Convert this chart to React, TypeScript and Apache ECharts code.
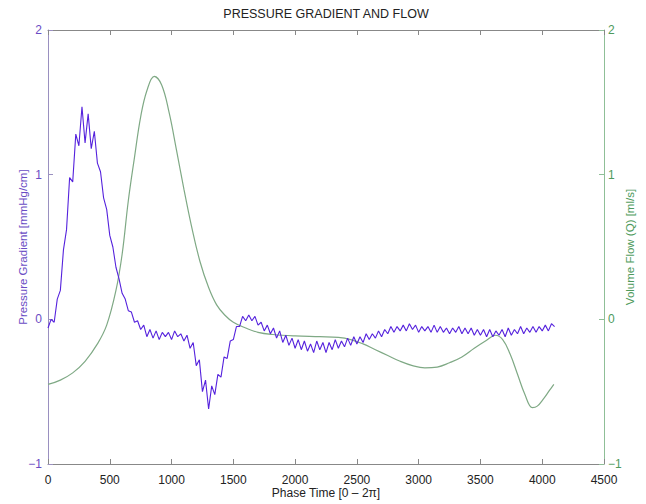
import React, { useEffect, useRef } from "react";
import * as echarts from "echarts";

const xTicks = [0, 500, 1000, 1500, 2000, 2500, 3000, 3500, 4000, 4500];
const yTicks = [-1, 0, 1, 2];
const sampleStep = 25;

// Pressure gradient, one value every 25 phase-time units
const pressure = [
  -0.06, 0.0, -0.02, 0.14, 0.2, 0.48, 0.62, 0.98, 0.95, 1.28,
  1.2, 1.47, 1.22, 1.42, 1.18, 1.3, 1.08, 1.02, 0.84, 0.76,
  0.58, 0.5, 0.36, 0.28, 0.18, 0.14, 0.06, 0.05, -0.02, -0.01,
  -0.07, -0.04, -0.12, -0.07, -0.13, -0.08, -0.14, -0.09, -0.12, -0.09,
  -0.14, -0.08, -0.12, -0.1, -0.15, -0.11, -0.2, -0.16, -0.32, -0.28,
  -0.5, -0.42, -0.62, -0.46, -0.52, -0.38, -0.4, -0.26, -0.27, -0.15,
  -0.14, -0.05, -0.05, 0.02, -0.01, 0.03, -0.01, 0.02, -0.04, -0.02,
  -0.08, -0.04, -0.1, -0.06, -0.13, -0.08, -0.16, -0.11, -0.18, -0.13,
  -0.2, -0.14, -0.21, -0.15, -0.22, -0.17, -0.23, -0.15, -0.21, -0.16,
  -0.23, -0.16, -0.21, -0.14, -0.2, -0.15, -0.19, -0.13, -0.18, -0.12,
  -0.17, -0.12, -0.16, -0.1, -0.14, -0.1, -0.13, -0.08, -0.12, -0.07,
  -0.1, -0.05, -0.09, -0.05, -0.08, -0.04, -0.08, -0.03, -0.07, -0.04,
  -0.09, -0.05, -0.08, -0.05, -0.09, -0.04, -0.09, -0.05, -0.09, -0.06,
  -0.1, -0.06, -0.09, -0.05, -0.1, -0.06, -0.1, -0.06, -0.11, -0.07,
  -0.11, -0.07, -0.12, -0.07, -0.12, -0.08, -0.11, -0.07, -0.12, -0.06,
  -0.11, -0.07, -0.1, -0.05, -0.1, -0.06, -0.09, -0.05, -0.09, -0.05,
  -0.08, -0.04, -0.08, -0.03, -0.05,
];

// Volume flow: phase time and value pairs
const flowTime = [
  0, 100, 200, 300, 400, 475, 550, 600, 650, 700, 750, 800, 860, 920, 980,
  1040, 1100, 1160, 1230, 1300, 1365, 1430, 1500, 1600, 1700, 1820, 2000,
  2200, 2350, 2450, 2550, 2650, 2750, 2850, 2950, 3050, 3150, 3250, 3350,
  3450, 3550, 3620, 3680, 3740, 3800, 3860, 3920, 3960, 4010, 4060, 4094,
];
const flowValue = [
  -0.45, -0.42, -0.37, -0.29, -0.17, -0.04, 0.2, 0.45, 0.82, 1.12, 1.4, 1.58,
  1.68, 1.62, 1.43, 1.17, 0.9, 0.65, 0.4, 0.22, 0.1, 0.03, -0.02, -0.06,
  -0.09, -0.105, -0.115, -0.12, -0.125, -0.14, -0.17, -0.21, -0.25, -0.29,
  -0.32, -0.335, -0.33, -0.3, -0.26, -0.2, -0.145, -0.11, -0.14, -0.24,
  -0.38, -0.52, -0.61, -0.6, -0.55, -0.49, -0.45,
];

const PURPLE = "#5522dd";
const PURPLE_TXT = "#6a4cc4";
const GREEN = "#7fa985";
const GREEN_TXT = "#4e9a5c";
const FONT = "Liberation Sans";

export default function App() {
  const ref = useRef<HTMLDivElement>(null);
  useEffect(() => {
    if (!ref.current) return;
    const chart = echarts.init(ref.current, undefined, { renderer: "svg" });
    const minus = (v: number) => (v < 0 ? "\u2212" + Math.abs(v) : String(v));
    const plain = (v: number) => String(v);
    const pData = pressure.map((v, i) => [i * sampleStep, v]);
    const fData = flowTime.map((t, i) => [t, flowValue[i]]);
    chart.setOption({
      animation: false,
      backgroundColor: "#ffffff",
      textStyle: { fontFamily: FONT },
      title: {
        text: "PRESSURE GRADIENT AND FLOW",
        left: 321,
        textAlign: "center",
        top: 2,
        textStyle: { fontSize: 12.5, fontWeight: "normal", color: "#222", fontFamily: FONT },
      },
      grid: { left: 48, right: 42, top: 30, bottom: 37 },
      xAxis: [
        {
          type: "value",
          min: xTicks[0],
          max: xTicks[xTicks.length - 1],
          interval: 500,
          position: "bottom",
          name: "Phase Time [0 \u2013 2\u03c0]",
          nameLocation: "middle",
          nameGap: 23,
          nameMoveOverlap: false,
          nameTextStyle: { fontSize: 12, color: "#222", fontFamily: FONT },
          axisLine: { onZero: false, lineStyle: { color: "#888", width: 1 } },
          axisTick: { inside: true, length: 5, lineStyle: { color: "#888" } },
          axisLabel: { color: "#222", fontSize: 12, margin: 10, formatter: plain, fontFamily: FONT },
          splitLine: { show: false },
        },
        {
          type: "value",
          min: xTicks[0],
          max: xTicks[xTicks.length - 1],
          interval: 500,
          position: "top",
          axisLine: { onZero: false, lineStyle: { color: "#888", width: 1 } },
          axisTick: { inside: true, length: 5, lineStyle: { color: "#888" } },
          axisLabel: { show: false },
          splitLine: { show: false },
        },
      ],
      yAxis: [
        {
          type: "value",
          min: yTicks[0],
          max: yTicks[yTicks.length - 1],
          interval: 1,
          position: "left",
          name: "Pressure Gradient [mmHg/cm]",
          nameLocation: "middle",
          nameGap: 19,
          nameMoveOverlap: false,
          nameTextStyle: { fontSize: 11.5, color: PURPLE_TXT, fontFamily: FONT },
          axisLine: { show: true, onZero: false, lineStyle: { color: "#9a90c0", width: 1 } },
          axisTick: { show: true, inside: true, length: 5, lineStyle: { color: "#9a90c0" } },
          axisLabel: { color: PURPLE_TXT, fontSize: 12, margin: 6, formatter: minus, fontFamily: FONT },
          splitLine: { show: false },
        },
        {
          type: "value",
          min: yTicks[0],
          max: yTicks[yTicks.length - 1],
          interval: 1,
          position: "right",
          name: "Volume Flow (Q) [ml/s]",
          nameLocation: "middle",
          nameGap: 20,
          nameRotate: 90,
          nameMoveOverlap: false,
          nameTextStyle: { fontSize: 11.5, color: GREEN_TXT, fontFamily: FONT },
          axisLine: { show: true, onZero: false, lineStyle: { color: "#8fbf97", width: 1 } },
          axisTick: { show: true, inside: true, length: 5, lineStyle: { color: "#8fbf97" } },
          axisLabel: { color: GREEN_TXT, fontSize: 12, margin: 4, formatter: minus, fontFamily: FONT },
          splitLine: { show: false },
        },
      ],
      series: [
        {
          name: "Volume Flow",
          type: "line",
          xAxisIndex: 0,
          yAxisIndex: 1,
          data: fData,
          smooth: 0.4,
          showSymbol: false,
          lineStyle: { color: GREEN, width: 1.2 },
          z: 2,
        },
        {
          name: "Pressure Gradient",
          type: "line",
          xAxisIndex: 0,
          yAxisIndex: 0,
          data: pData,
          showSymbol: false,
          lineStyle: { color: PURPLE, width: 1.1 },
          z: 3,
        },
      ],
    });
    return () => chart.dispose();
  }, []);
  return (
    <div
      ref={ref}
      style={{ position: "fixed", left: 0, top: 0, width: 646, height: 504, background: "#fff" }}
    />
  );
}
